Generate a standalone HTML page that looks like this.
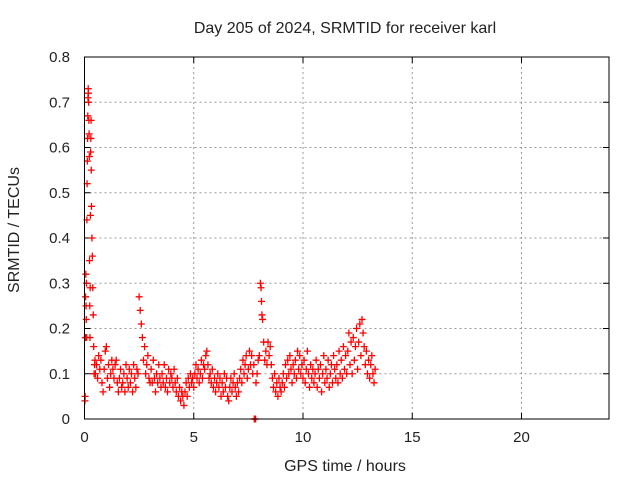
<!DOCTYPE html>
<html><head><meta charset="utf-8"><style>
body{margin:0;background:#fff}
svg text{font-family:"Liberation Sans",sans-serif;font-size:15px;fill:#222}
svg text.big{font-size:16px}
</style></head><body>
<svg id="chart" width="640" height="480" viewBox="0 0 640 480" xmlns="http://www.w3.org/2000/svg">
<rect width="640" height="480" fill="#fff"/>
<text class="big" x="345" y="33" text-anchor="middle">Day 205 of 2024, SRMTID for receiver karl</text>
<text class="big" x="345" y="471" text-anchor="middle">GPS time / hours</text>
<text class="big" transform="translate(19,230) rotate(-90)" text-anchor="middle">SRMTID / TECUs</text>
<g id="grid"></g><g id="ticks"></g><g id="marks"></g>
<rect x="84.5" y="57" width="524.5" height="362" fill="none" stroke="#000" stroke-width="1"/>
</svg>
<script>
const xTicks=[0,5,10,15,20];
const yTicks=[0,0.1,0.2,0.3,0.4,0.5,0.6,0.7,0.8];
const yTickLabels=["0","0.1","0.2","0.3","0.4","0.5","0.6","0.7","0.8"];
const times=[
0.02,0.03,0.04,0.05,0.06,0.07,0.08,0.09,0.10,0.11,
0.12,0.13,0.14,0.15,0.16,0.17,0.18,0.19,0.20,0.21,
0.22,0.23,0.24,0.25,0.26,0.27,0.28,0.29,0.30,0.31,
0.32,0.34,0.36,0.38,0.40,0.42,0.44,0.46,0.48,0.50,
0.55,0.6,0.65,0.7,0.75,0.8,0.85,0.9,0.95,1.0,
1.05,1.1,1.15,1.2,1.25,1.3,1.35,1.4,1.45,1.5,
1.55,1.6,1.65,1.7,1.75,1.8,1.85,1.9,1.95,2.0,
2.05,2.1,2.15,2.2,2.25,2.3,2.35,2.4,2.45,2.5,
2.55,2.6,2.65,2.7,2.75,2.8,2.85,2.9,2.95,3.0,
3.05,3.1,3.15,3.2,3.25,3.3,3.35,3.4,3.45,3.5,
3.55,3.6,3.65,3.7,3.75,3.8,3.85,3.9,3.95,4.0,
4.05,4.1,4.15,4.2,4.25,4.3,4.35,4.4,4.45,4.5,
4.55,4.6,4.65,4.7,4.75,4.8,4.85,4.9,4.95,5.0,
5.05,5.1,5.15,5.2,5.25,5.3,5.35,5.4,5.45,5.5,
5.55,5.6,5.65,5.7,5.75,5.8,5.85,5.9,5.95,6.0,
6.05,6.1,6.15,6.2,6.25,6.3,6.35,6.4,6.45,6.5,
6.55,6.6,6.65,6.7,6.75,6.8,6.85,6.9,6.95,7.0,
7.05,7.1,7.15,7.2,7.25,7.3,7.35,7.4,7.45,7.5,
7.55,7.6,7.65,7.7,7.75,7.8,7.85,7.9,7.95,8.0,
8.05,8.1,8.15,8.2,8.25,8.3,8.35,8.4,8.45,8.5,
8.55,8.6,8.65,8.7,8.75,8.8,8.85,8.9,8.95,9.0,
9.05,9.1,9.15,9.2,9.25,9.3,9.35,9.4,9.45,9.5,
9.55,9.6,9.65,9.7,9.75,9.8,9.85,9.9,9.95,10.0,
10.05,10.1,10.15,10.2,10.25,10.3,10.35,10.4,10.45,10.5,
10.55,10.6,10.65,10.7,10.75,10.8,10.85,10.9,10.95,11.0,
11.05,11.1,11.15,11.2,11.25,11.3,11.35,11.4,11.45,11.5,
11.55,11.6,11.65,11.7,11.75,11.8,11.85,11.9,11.95,12.0,
12.05,12.1,12.15,12.2,12.25,12.3,12.35,12.4,12.45,12.5,
12.55,12.6,12.65,12.7,12.75,12.8,12.85,12.9,12.95,13.0,
13.05,13.1,13.15,13.2,13.25,13.3,7.77,7.83,8.08,8.12];
const values=[
0.04,0.05,0.18,0.27,0.32,0.25,0.22,0.30,0.18,0.44,
0.52,0.57,0.62,0.67,0.71,0.73,0.72,0.70,0.66,0.63,
0.58,0.35,0.25,0.18,0.29,0.45,0.59,0.62,0.66,0.55,
0.47,0.40,0.36,0.29,0.23,0.16,0.10,0.12,0.13,0.10,
0.12,0.09,0.14,0.11,0.13,0.08,0.06,0.11,0.15,0.16,
0.09,0.12,0.07,0.10,0.13,0.11,0.09,0.12,0.13,0.08,
0.06,0.09,0.11,0.07,0.08,0.10,0.06,0.12,0.09,0.07,
0.11,0.08,0.10,0.06,0.12,0.09,0.07,0.11,0.10,0.27,
0.24,0.21,0.18,0.13,0.16,0.10,0.12,0.14,0.09,0.08,
0.11,0.08,0.13,0.09,0.06,0.10,0.08,0.12,0.09,0.07,
0.10,0.08,0.12,0.07,0.09,0.06,0.11,0.08,0.10,0.09,
0.07,0.11,0.08,0.06,0.09,0.05,0.07,0.04,0.06,0.05,
0.03,0.06,0.08,0.05,0.09,0.07,0.10,0.08,0.09,0.07,
0.10,0.12,0.09,0.11,0.08,0.10,0.13,0.09,0.12,0.11,
0.14,0.15,0.12,0.09,0.10,0.08,0.11,0.07,0.09,0.06,
0.08,0.10,0.07,0.09,0.05,0.08,0.06,0.10,0.07,0.09,
0.05,0.04,0.07,0.09,0.06,0.08,0.10,0.07,0.05,0.08,
0.06,0.09,0.11,0.08,0.13,0.10,0.12,0.14,0.09,0.11,
0.15,0.12,0.14,0.10,0.12,0.00,0.08,0.10,0.13,0.14,
0.30,0.26,0.22,0.17,0.13,0.15,0.12,0.17,0.14,0.16,
0.12,0.09,0.07,0.10,0.06,0.08,0.05,0.09,0.07,0.06,
0.08,0.10,0.07,0.12,0.09,0.13,0.10,0.14,0.11,0.08,
0.12,0.10,0.13,0.09,0.15,0.11,0.14,0.10,0.12,0.09,
0.13,0.08,0.11,0.15,0.10,0.07,0.12,0.09,0.11,0.08,
0.10,0.13,0.07,0.11,0.09,0.12,0.06,0.10,0.14,0.08,
0.11,0.09,0.13,0.07,0.10,0.12,0.08,0.14,0.11,0.09,
0.12,0.08,0.15,0.10,0.13,0.09,0.16,0.11,0.14,0.10,
0.15,0.19,0.12,0.17,0.10,0.18,0.13,0.16,0.20,0.11,
0.17,0.21,0.14,0.22,0.19,0.16,0.12,0.15,0.10,0.13,
0.09,0.12,0.14,0.10,0.08,0.11,0.00,0.00,0.29,0.23];
const X=t=>84.5+t*21.85;
const Y=v=>419-v*452.5;
const NS="http://www.w3.org/2000/svg";
const grid=document.getElementById('grid'),ticks=document.getElementById('ticks'),marks=document.getElementById('marks');
function ln(g,x1,y1,x2,y2,s,d){const l=document.createElementNS(NS,'line');l.setAttribute('x1',x1);l.setAttribute('y1',y1);l.setAttribute('x2',x2);l.setAttribute('y2',y2);l.setAttribute('stroke',s);if(d)l.setAttribute('stroke-dasharray',d);g.appendChild(l);return l;}
function tx(x,y,s,a){const t=document.createElementNS(NS,'text');t.setAttribute('x',x);t.setAttribute('y',y);t.setAttribute('text-anchor',a);t.textContent=s;ticks.appendChild(t);return t;}
xTicks.forEach(t=>{const x=X(t);
if(t>0){const g=ln(grid,x,57,x,419,'#999','2,3');

}
ln(ticks,x,419,x,413,'#000');ln(ticks,x,57,x,63,'#000');
const l=tx(x,442,String(t),'middle');

});
yTicks.forEach((v,i)=>{const y=Y(v);
if(v>0&&v<0.8){const g=ln(grid,84.5,y,609,y,'#999','2,3');

}
ln(ticks,84.5,y,90.5,y,'#000');ln(ticks,609,y,603,y,'#000');
const l=tx(70,y+5,yTickLabels[i],'end');

});
times.forEach((t,i)=>{const x=X(t),y=Y(values[i]);
const p=document.createElementNS(NS,'path');
p.setAttribute('d',`M${x-3.5},${y}H${x+3.5}M${x},${y-3.5}V${y+3.5}`);
p.setAttribute('stroke','#f00');p.setAttribute('stroke-width','1.3');p.setAttribute('fill','none');


marks.appendChild(p);});
</script>
</body></html>
